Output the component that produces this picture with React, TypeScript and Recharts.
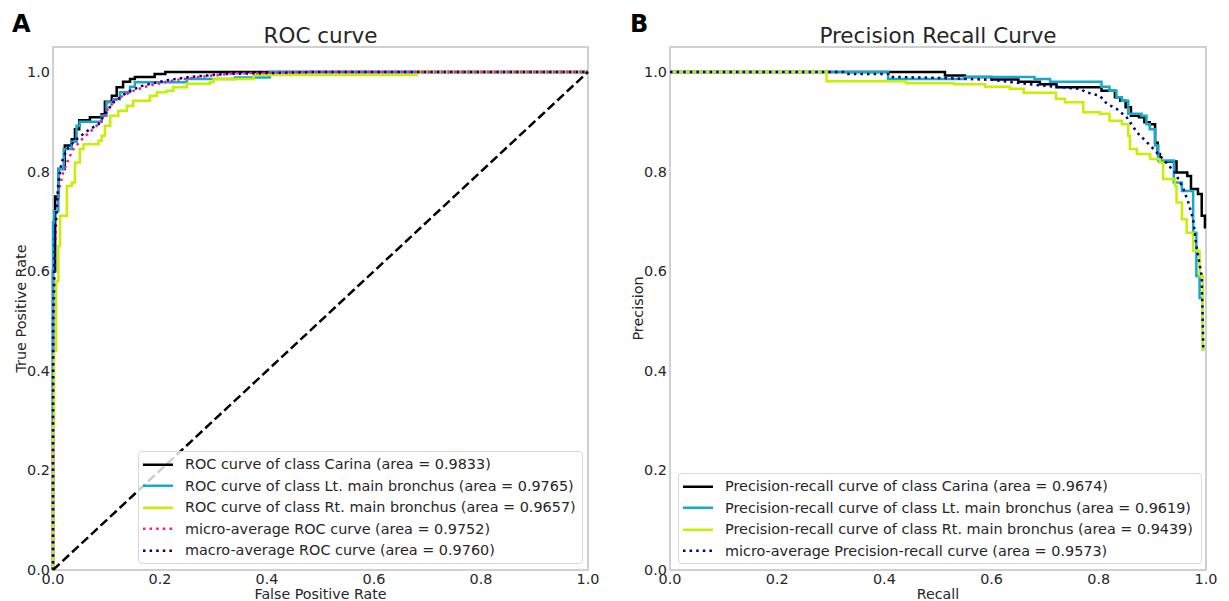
import React from 'react';
import { LineChart, Line, XAxis, YAxis, ReferenceArea } from 'recharts';

const FONT = '"DejaVu Sans", Verdana, sans-serif';
const TEXT = '#262626';

const axisTicks = [0, 0.2, 0.4, 0.6, 0.8, 1.0];

// panel A - ROC
const carinaFpr = [0, 0, 0.004, 0.01, 0.022, 0.035, 0.041, 0.049, 0.069, 0.091, 0.097, 0.11, 0.119, 0.131, 0.144, 0.153, 0.19, 0.21, 1];
const carinaTpr = [0, 0.6, 0.75, 0.805, 0.852, 0.865, 0.885, 0.903, 0.909, 0.915, 0.94, 0.952, 0.969, 0.98, 0.986, 0.99, 0.996, 1, 1];
const ltFpr = [0, 0, 0.002, 0.01, 0.02, 0.035, 0.044, 0.05, 0.091, 0.1, 0.113, 0.125, 0.144, 0.153, 0.25, 0.34, 0.405, 1];
const ltTpr = [0, 0.698, 0.72, 0.805, 0.845, 0.86, 0.892, 0.9, 0.912, 0.939, 0.945, 0.959, 0.97, 0.979, 0.986, 0.989, 1, 1];
const rtFpr = [0, 0, 0.002, 0.006, 0.01, 0.013, 0.026, 0.035, 0.041, 0.05, 0.057, 0.085, 0.091, 0.097, 0.107, 0.122, 0.138, 0.15, 0.181, 0.194, 0.212, 0.225, 0.25, 0.293, 0.3, 0.375, 0.68, 1];
const rtTpr = [0, 0.29, 0.44, 0.58, 0.65, 0.711, 0.771, 0.778, 0.818, 0.845, 0.855, 0.862, 0.872, 0.892, 0.912, 0.922, 0.932, 0.942, 0.952, 0.959, 0.962, 0.969, 0.976, 0.979, 0.986, 0.994, 1, 1];
const microFpr = [0, 0, 0.002, 0.004, 0.01, 0.019, 0.029, 0.038, 0.057, 0.075, 0.091, 0.1, 0.119, 0.15, 0.181, 0.225, 0.275, 0.337, 0.5, 1];
const microTpr = [0, 0.3, 0.55, 0.67, 0.758, 0.798, 0.825, 0.845, 0.868, 0.885, 0.902, 0.922, 0.946, 0.962, 0.973, 0.983, 0.99, 0.997, 1, 1];
const macroFpr = [0, 0, 0.004, 0.01, 0.016, 0.026, 0.044, 0.069, 0.085, 0.097, 0.113, 0.138, 0.169, 0.212, 0.256, 0.325, 0.5, 1];
const macroTpr = [0, 0.5, 0.684, 0.778, 0.818, 0.845, 0.865, 0.885, 0.895, 0.915, 0.939, 0.959, 0.973, 0.983, 0.99, 0.996, 1, 1];
const chanceX = [0, 1];
const chanceY = [0, 1];

const rocLabels = [
  'ROC curve of class Carina (area = 0.9833)',
  'ROC curve of class Lt. main bronchus (area = 0.9765)',
  'ROC curve of class Rt. main bronchus (area = 0.9657)',
  'micro-average ROC curve (area = 0.9752)',
  'macro-average ROC curve (area = 0.9760)',
];

// panel B - precision / recall
const carinaRecall = [0, 0.513, 0.55, 0.6, 0.65, 0.69, 0.721, 0.805, 0.83, 0.84, 0.85, 0.86, 0.875, 0.885, 0.895, 0.905, 0.91, 0.914, 0.945, 0.965, 0.972, 0.985, 0.992, 0.998, 1];
const carinaPrecision = [1, 0.993, 0.99, 0.985, 0.98, 0.975, 0.969, 0.962, 0.949, 0.942, 0.929, 0.912, 0.909, 0.899, 0.895, 0.858, 0.835, 0.82, 0.798, 0.791, 0.765, 0.755, 0.711, 0.688, 0.688];
const ltRecall = [0, 0.407, 0.55, 0.68, 0.709, 0.805, 0.82, 0.833, 0.843, 0.855, 0.88, 0.889, 0.895, 0.905, 0.911, 0.94, 0.955, 0.976, 0.982, 0.988, 0.994, 0.997];
const ltPrecision = [1, 0.986, 0.99, 0.986, 0.98, 0.97, 0.962, 0.949, 0.942, 0.916, 0.912, 0.895, 0.885, 0.852, 0.822, 0.778, 0.761, 0.677, 0.59, 0.546, 0.443, 0.443];
const rtRecall = [0, 0.292, 0.44, 0.53, 0.588, 0.634, 0.66, 0.72, 0.737, 0.771, 0.802, 0.82, 0.843, 0.855, 0.858, 0.871, 0.896, 0.914, 0.92, 0.942, 0.945, 0.955, 0.964, 0.976, 0.988, 0.994, 0.997];
const rtPrecision = [1, 0.981, 0.977, 0.975, 0.97, 0.966, 0.958, 0.946, 0.939, 0.919, 0.916, 0.902, 0.895, 0.872, 0.845, 0.835, 0.825, 0.818, 0.785, 0.771, 0.738, 0.704, 0.677, 0.641, 0.59, 0.443, 0.443];
const microRecall = [0, 0.323, 0.326, 0.407, 0.41, 0.5, 0.6, 0.7, 0.765, 0.777, 0.802, 0.815, 0.833, 0.852, 0.871, 0.896, 0.92, 0.942, 0.958, 0.967, 0.976, 0.982, 0.992, 0.995];
const microPrecision = [1, 1, 0.996, 0.996, 0.99, 0.988, 0.984, 0.972, 0.966, 0.959, 0.952, 0.936, 0.926, 0.909, 0.879, 0.852, 0.825, 0.798, 0.765, 0.738, 0.704, 0.651, 0.59, 0.443];

const prLabels = [
  'Precision-recall curve of class Carina (area = 0.9674)',
  'Precision-recall curve of class Lt. main bronchus (area = 0.9619)',
  'Precision-recall curve of class Rt. main bronchus (area = 0.9439)',
  'micro-average Precision-recall curve (area = 0.9573)',
];

const BLACK = '#000000';
const CYAN = '#17a9c9';
const LIME = '#c6f000';
const PINK = '#ff1493';
const NAVY = '#000080';
const DOTTED = '2.5 4.1';
const DASHED = '9 4';

const zip = (xs: number[], ys: number[]) => xs.map((x, i) => ({ x, y: ys[i] }));

const rocSeries = [
  { name: rocLabels[0], data: zip(carinaFpr, carinaTpr), color: BLACK, curve: 'stepAfter' },
  { name: rocLabels[1], data: zip(ltFpr, ltTpr), color: CYAN, curve: 'stepAfter' },
  { name: rocLabels[2], data: zip(rtFpr, rtTpr), color: LIME, curve: 'stepAfter' },
  { name: rocLabels[3], data: zip(microFpr, microTpr), color: PINK, curve: 'linear', dash: DOTTED },
  { name: rocLabels[4], data: zip(macroFpr, macroTpr), color: NAVY, curve: 'linear', dash: DOTTED },
  { name: 'chance', data: zip(chanceX, chanceY), color: BLACK, curve: 'linear', dash: DASHED, hidden: true },
];

const prSeries = [
  { name: prLabels[0], data: zip(carinaRecall, carinaPrecision), color: BLACK, curve: 'stepAfter' },
  { name: prLabels[1], data: zip(ltRecall, ltPrecision), color: CYAN, curve: 'stepAfter' },
  { name: prLabels[2], data: zip(rtRecall, rtPrecision), color: LIME, curve: 'stepAfter' },
  { name: prLabels[3], data: zip(microRecall, microPrecision), color: NAVY, curve: 'linear', dash: DOTTED },
];

const tickStyle = { fontSize: 14.4, fill: TEXT, fontFamily: FONT };
const fmt = (v: number) => v.toFixed(1);

function Panel({ left, width, yAxisWidth, rightGap, series }: any) {
  return (
    <div style={{ position: 'absolute', left, top: 0 }}>
      <LineChart width={width} height={601} margin={{ top: 47, right: rightGap, bottom: 0, left: 0 }}>
        <XAxis
          type="number"
          dataKey="x"
          domain={[0, 1]}
          ticks={axisTicks}
          tickFormatter={fmt}
          height={31}
          axisLine={false}
          tickLine={false}
          tickSize={0}
          tickMargin={4}
          tick={tickStyle}
        />
        <YAxis
          type="number"
          domain={[0, 1.05]}
          ticks={axisTicks}
          tickFormatter={fmt}
          width={yAxisWidth}
          axisLine={false}
          tickLine={false}
          tickSize={0}
          tickMargin={3}
          tick={tickStyle}
        />
        <ReferenceArea x1={0} x2={1} y1={0} y2={1.05} fill="none" fillOpacity={0} stroke="#d0d0d0" strokeWidth={2} />
        {series.map((s: any) => (
          <Line
            key={s.name}
            data={s.data}
            dataKey="y"
            type={s.curve}
            stroke={s.color}
            strokeWidth={2.5}
            strokeDasharray={s.dash}
            dot={false}
            activeDot={false}
            isAnimationActive={false}
          />
        ))}
      </LineChart>
    </div>
  );
}

function LegendBox({ left, top, width, series }: any) {
  return (
    <div
      style={{
        position: 'absolute',
        left,
        top,
        width,
        padding: '1.5px 0',
        boxSizing: 'border-box',
        background: 'rgba(255,255,255,0.8)',
        border: '1px solid #d9d9d9',
        borderRadius: 4,
        fontFamily: FONT,
        fontSize: 14.4,
        color: TEXT,
      }}
    >
      {series.filter((s: any) => !s.hidden).map((s: any) => (
        <div key={s.name} style={{ display: 'flex', alignItems: 'center', height: 21.5, whiteSpace: 'nowrap' }}>
          <svg width={42} height={21.5} style={{ marginLeft: 4, flex: 'none' }}>
            <line x1={0} x2={30} y1={10.75} y2={10.75} stroke={s.color} strokeWidth={2.5} strokeDasharray={s.dash} />
          </svg>
          <span>{s.name}</span>
        </div>
      ))}
    </div>
  );
}

export default function App() {
  return (
    <div style={{ position: 'absolute', left: 0, top: 0, width: 1229, height: 601, background: '#fff', overflow: 'hidden' }}>
      <Panel left={0} width={600} yAxisWidth={53} rightGap={12} series={rocSeries} />
      <Panel left={610} width={610} yAxisWidth={60} rightGap={14} series={prSeries} />

      <svg width={1229} height={601} style={{ position: 'absolute', left: 0, top: 0, pointerEvents: 'none' }}>
        <g fontFamily={FONT} fill={TEXT}>
          <text x={12} y={32} fontSize={24} fontWeight="bold" fill="#000">A</text>
          <text x={630} y={32} fontSize={24} fontWeight="bold" fill="#000">B</text>
          <text x={320.5} y={43} fontSize={21.5} textAnchor="middle">ROC curve</text>
          <text x={938} y={43} fontSize={21.5} textAnchor="middle">Precision Recall Curve</text>
          <text x={320.5} y={599} fontSize={14.2} textAnchor="middle">False Positive Rate</text>
          <text x={938} y={599} fontSize={14.2} textAnchor="middle">Recall</text>
          <text x={26} y={308.5} fontSize={14.4} textAnchor="middle" transform="rotate(-90 26 308.5)">True Positive Rate</text>
          <text x={643} y={308.5} fontSize={14.4} textAnchor="middle" transform="rotate(-90 643 308.5)">Precision</text>
        </g>
      </svg>

      <LegendBox left={138} top={451} width={445} series={rocSeries} />
      <LegendBox left={678} top={473} width={524} series={prSeries} />
    </div>
  );
}
